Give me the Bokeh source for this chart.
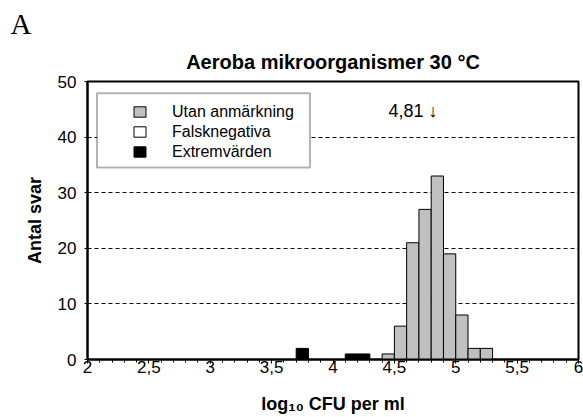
import numpy as np
from bokeh.plotting import figure
from bokeh.models import (Range1d, FixedTicker, CustomJSTickFormatter, Label, Title,
                          Legend, LegendItem, BoxAnnotation, ColumnDataSource)
from bokeh.embed import file_html
from bokeh.resources import INLINE

# ---- data ----
title_text = "Aeroba mikroorganismer 30 °C"
panel_letter = "A"
y_label = "Antal svar"
x_label = "log\u2081\u2080 CFU per ml"
bin_width = 0.1
gray_bin_start = [4.4, 4.5, 4.6, 4.7, 4.8, 4.9, 5.0, 5.1, 5.2]
gray_counts = [1, 6, 21, 27, 33, 19, 8, 2, 2]
false_neg_bin_start = []
false_neg_counts = []
extreme_bin_start = [3.7, 4.1, 4.2]
extreme_counts = [2, 1, 1]
median_value = 4.81
median_text = "4,81 \u2193"
x_ticks = [2, 2.5, 3, 3.5, 4, 4.5, 5, 5.5, 6]
x_minor_ticks = [round(2 + 0.1 * i, 1) for i in range(41)]
y_ticks = [0, 10, 20, 30, 40, 50]
grid_ticks = [10, 20, 30, 40]
legend_labels = ["Utan anmärkning", "Falsknegativa", "Extremvärden"]

# ---- layout constants (page px) ----
W, H = 583, 417
FRAME_L, FRAME_R, FRAME_T, FRAME_B = 87, 578, 81, 359
X0, X1, Y0, Y1 = 2, 6, 0, 50
FONT = "Liberation Sans"


def dx(px):
    return X0 + (px - FRAME_L) * (X1 - X0) / (FRAME_R - FRAME_L)


def dy(py):
    return Y0 + (FRAME_B - py) * (Y1 - Y0) / (FRAME_B - FRAME_T)


p = figure(width=W, height=H, output_backend="svg", toolbar_location=None,
           title=None,
           x_range=Range1d(X0, X1), y_range=Range1d(Y0, Y1),
           min_border_left=FRAME_L, min_border_right=W - FRAME_R,
           min_border_top=FRAME_T, min_border_bottom=H - FRAME_B)

# main title (closest to frame), then panel letter above it
p.add_layout(Title(text=title_text, align="center", text_font=FONT,
                   text_font_size="20px", text_font_style="bold",
                   text_color="black", standoff=18), "above")
p.add_layout(Title(text=panel_letter, align="left", offset=10 - FRAME_L,
                   text_font="Liberation Serif", text_font_size="29px",
                   text_font_style="normal", text_color="black", standoff=0), "above")

p.outline_line_color = "black"
p.outline_line_width = 2
p.background_fill_color = "white"
p.border_fill_color = "white"

# grid
p.xgrid.visible = False
p.ygrid.ticker = FixedTicker(ticks=grid_ticks)
p.ygrid.grid_line_color = "black"
p.ygrid.grid_line_dash = "4 3"
p.ygrid.grid_line_width = 1

# axes
xa = p.xaxis[0]
xa.ticker = FixedTicker(ticks=x_ticks, minor_ticks=x_minor_ticks)
xa.formatter = CustomJSTickFormatter(code="return tick.toString().replace('.', ',');")
xa.axis_line_width = 2
xa.major_tick_line_width = 1
xa.major_tick_out = 4
xa.major_tick_in = 0
xa.minor_tick_out = 3
xa.minor_tick_in = 0
xa.major_label_text_font = FONT
xa.major_label_text_font_size = "17px"
xa.major_label_text_color = "black"
xa.major_label_standoff = -3
xa.axis_label = x_label
xa.axis_label_text_font = FONT
xa.axis_label_text_font_size = "18px"
xa.axis_label_text_font_style = "bold"
xa.axis_label_text_color = "black"
xa.axis_label_standoff = 18

ya = p.yaxis[0]
ya.ticker = FixedTicker(ticks=y_ticks)
ya.axis_line_width = 2
ya.major_tick_out = 3
ya.major_tick_in = 0
ya.minor_tick_out = 0
ya.minor_tick_in = 0
ya.major_label_text_font = FONT
ya.major_label_text_font_size = "17px"
ya.major_label_text_color = "black"
ya.major_label_standoff = 8
ya.axis_label = y_label
ya.axis_label_text_font = FONT
ya.axis_label_text_font_size = "18px"
ya.axis_label_text_font_style = "bold"
ya.axis_label_standoff = 10
ya.axis_label_text_color = "black"


def bars(starts, counts):
    if len(starts) == 0:  # no entries: keep a NaN placeholder so the legend glyph shows
        starts, counts = [np.nan], [np.nan]
    s = np.array(starts, dtype=float)
    return ColumnDataSource(dict(left=s, right=s + bin_width,
                                 top=np.array(counts, dtype=float)))


r_gray = p.quad(left="left", right="right", bottom=0, top="top",
                source=bars(gray_bin_start, gray_counts),
                fill_color="#C0C0C0", line_color="black", line_width=1)
r_fn = p.quad(left="left", right="right", bottom=0, top="top",
              source=bars(false_neg_bin_start, false_neg_counts),
              fill_color="white", line_color="black", line_width=1)
r_ext = p.quad(left="left", right="right", bottom=0, top="top",
               source=bars(extreme_bin_start, extreme_counts),
               fill_color="black", line_color="black", line_width=1)

# legend frame
box = BoxAnnotation(left=dx(96.5), right=dx(309.5), top=dy(92.7), bottom=dy(167),
                    fill_color="white", fill_alpha=1, line_color="black", line_width=2)
p.add_layout(box)

legend = Legend(items=[LegendItem(label=legend_labels[0], renderers=[r_gray]),
                       LegendItem(label=legend_labels[1], renderers=[r_fn]),
                       LegendItem(label=legend_labels[2], renderers=[r_ext])],
                location=(132 - FRAME_L, FRAME_B - 161.7),
                padding=0, margin=0, spacing=0,
                glyph_width=15, glyph_height=13, label_height=20,
                label_standoff=25,
                label_text_font=FONT, label_text_font_size="16px",
                label_text_color="black",
                background_fill_alpha=0, border_line_alpha=0)
p.add_layout(legend, "center")

# median annotation
p.add_layout(Label(x=median_value, y=dy(110.5), text=median_text,
                   text_align="right", text_baseline="middle", x_offset=5,
                   text_font=FONT, text_font_size="18px", text_color="black"))

open("out.html", "w").write(file_html(p, INLINE))
